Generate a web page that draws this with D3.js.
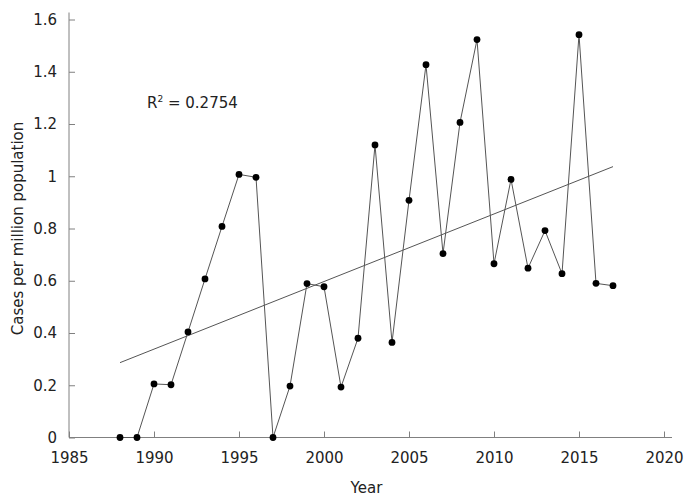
<!DOCTYPE html>
<html>
<head>
<meta charset="utf-8">
<script src="https://cdn.jsdelivr.net/npm/d3@7"></script>
<style>
  body { margin: 0; background: #fff; }
  text { font-family: "DejaVu Sans", Verdana, sans-serif; }
</style>
</head>
<body>
<svg id="chart" width="692" height="503"></svg>
<script>
const years = d3.range(1988, 2018);
const cases = [0, 0, 0.205, 0.202, 0.404, 0.607, 0.808, 1.007, 0.996, 0,
  0.197, 0.589, 0.577, 0.193, 0.38, 1.12, 0.364, 0.908, 1.427, 0.704,
  1.206, 1.523, 0.665, 0.988, 0.648, 0.792, 0.627, 1.542, 0.59, 0.581];
const xTicks = [1985, 1990, 1995, 2000, 2005, 2010, 2015, 2020];
const yTicks = [0, 0.2, 0.4, 0.6, 0.8, 1, 1.2, 1.4, 1.6];
const r2Label = "0.2754";

const svg = d3.select("#chart");
const x = d3.scaleLinear().domain([1985, 2020]).range([69, 664]);
const y = d3.scaleLinear().domain([0, 1.6]).range([437.5, 19.5]);

const data = years.map((d, i) => ({ year: d, value: cases[i] }));

// x軸
const gx = svg.append("g").attr("transform", "translate(0," + y(0) + ")")
  .call(d3.axisBottom(x).tickValues(xTicks).tickFormat(d3.format("d"))
    .tickSizeInner(-6).tickSizeOuter(0).tickPadding(15));
gx.select(".domain").remove();
gx.append("line").attr("x1", x(1985)).attr("x2", x(2020) + 8).attr("stroke", "#808080");
gx.selectAll(".tick line").attr("stroke", "#808080");
gx.selectAll(".tick text").attr("fill", "#222").attr("font-size", "15px");

// y軸
const gy = svg.append("g").attr("transform", "translate(" + x(1985) + ",0)")
  .call(d3.axisLeft(y).tickValues(yTicks).tickFormat((d) => d)
    .tickSizeInner(-6).tickSizeOuter(0).tickPadding(12));
gy.select(".domain").remove();
gy.append("line").attr("y1", y(0)).attr("y2", y(1.6) - 7).attr("stroke", "#808080");
gy.selectAll(".tick line").attr("stroke", "#808080");
gy.selectAll(".tick text").attr("fill", "#222").attr("font-size", "15px");

// 軸標題
svg.append("text").attr("x", (x(1985) + x(2020)) / 2).attr("y", 493)
  .attr("text-anchor", "middle").attr("font-size", "15px").attr("fill", "#222").text("Year");
svg.append("text").attr("transform", "translate(23," + (y(0) + y(1.6)) / 2 + ") rotate(-90)")
  .attr("text-anchor", "middle").attr("font-size", "15px").attr("fill", "#222")
  .text("Cases per million population");

// 回歸線
const mx = d3.mean(years), my = d3.mean(cases);
const slope = d3.sum(data, (d) => (d.year - mx) * (d.value - my)) /
  d3.sum(data, (d) => (d.year - mx) * (d.year - mx));
const icpt = my - slope * mx;
const x0 = years[0], x1 = years[years.length - 1];
svg.append("line")
  .attr("x1", x(x0)).attr("y1", y(icpt + slope * x0))
  .attr("x2", x(x1)).attr("y2", y(icpt + slope * x1))
  .attr("stroke", "#555").attr("stroke-width", 1);

// 折線
svg.append("path").datum(data)
  .attr("fill", "none").attr("stroke", "#555").attr("stroke-width", 1)
  .attr("d", d3.line().x((d) => x(d.year)).y((d) => y(d.value)));

svg.selectAll(".dot").data(data).enter().append("circle")
  .attr("class", "dot")
  .attr("cx", (d) => x(d.year)).attr("cy", (d) => y(d.value))
  .attr("r", 3.4).attr("fill", "#000");

// R²
const rt = svg.append("text").attr("x", 147).attr("y", 108)
  .attr("font-size", "15px").attr("fill", "#222");
rt.append("tspan").text("R");
rt.append("tspan").attr("font-size", "9px").attr("dy", "-6").text("2");
rt.append("tspan").attr("dy", "6").text(" = " + r2Label);
</script>
</body>
</html>
